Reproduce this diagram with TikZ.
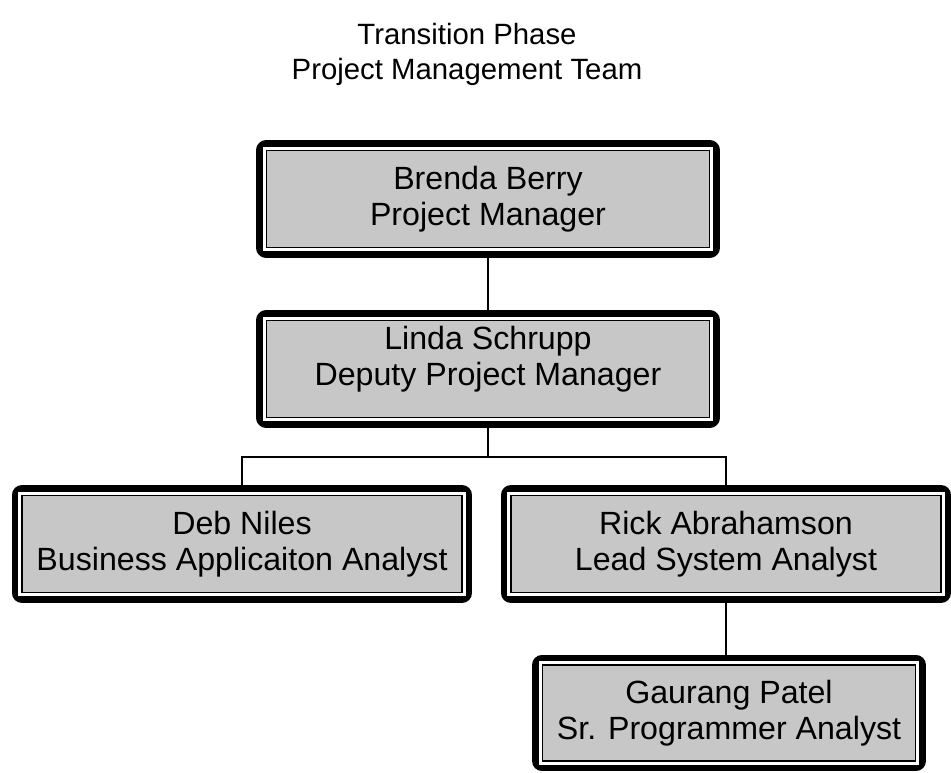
\documentclass[tikz,border=0pt]{standalone}
\usepackage{fontspec}
\setmainfont{Liberation Sans}
\begin{document}
\begin{tikzpicture}[x=0.02cm, y=-0.02cm,
  member/.style={draw=black, line width=0.85pt, fill=black!22,
    preaction={draw=black, line width=11.5pt, line join=round},
    preaction={draw=white, line width=4.2pt},
    minimum height=1.95cm, outer sep=5.75pt, inner sep=0pt,
    align=center, font=\fontsize{18.3}{20.5}\selectfont},
  link/.style={line width=0.85pt}]
\useasboundingbox (0,0) rectangle (951,773);

\node[align=center, font=\fontsize{16.7}{20}\selectfont] (title) at (467,54)
  {Transition Phase\\Project Management Team};

\node[member, minimum width=8.87cm] (brenda) at (488,199) {Brenda Berry\\Project Manager};
\node[member, minimum width=8.87cm] (linda) at (488,369) {Linda Schrupp\\Deputy Project Manager\\[-5pt]\mbox{}};
\node[member, minimum width=8.81cm] (deb) at (242,544) {Deb Niles\\Business Applicaiton Analyst};
\node[member, minimum width=8.61cm] (rick) at (726,544) {Rick Abrahamson\\Lead System Analyst};
\node[member, minimum width=7.47cm, minimum height=1.93cm] (gaurang) at (729,713) {Gaurang Patel\\Sr. Programmer Analyst};

\coordinate (bus) at (0,457);
\draw[link] (brenda.south) -- (linda.north);
\draw[link] (linda.south) -- (linda.south |- bus);
\draw[link] (deb.north) -- (deb.north |- bus) -- (rick.north |- bus) -- (rick.north);
\draw[link] (rick.south) -- (rick.south |- gaurang.north);
\end{tikzpicture}
\end{document}
